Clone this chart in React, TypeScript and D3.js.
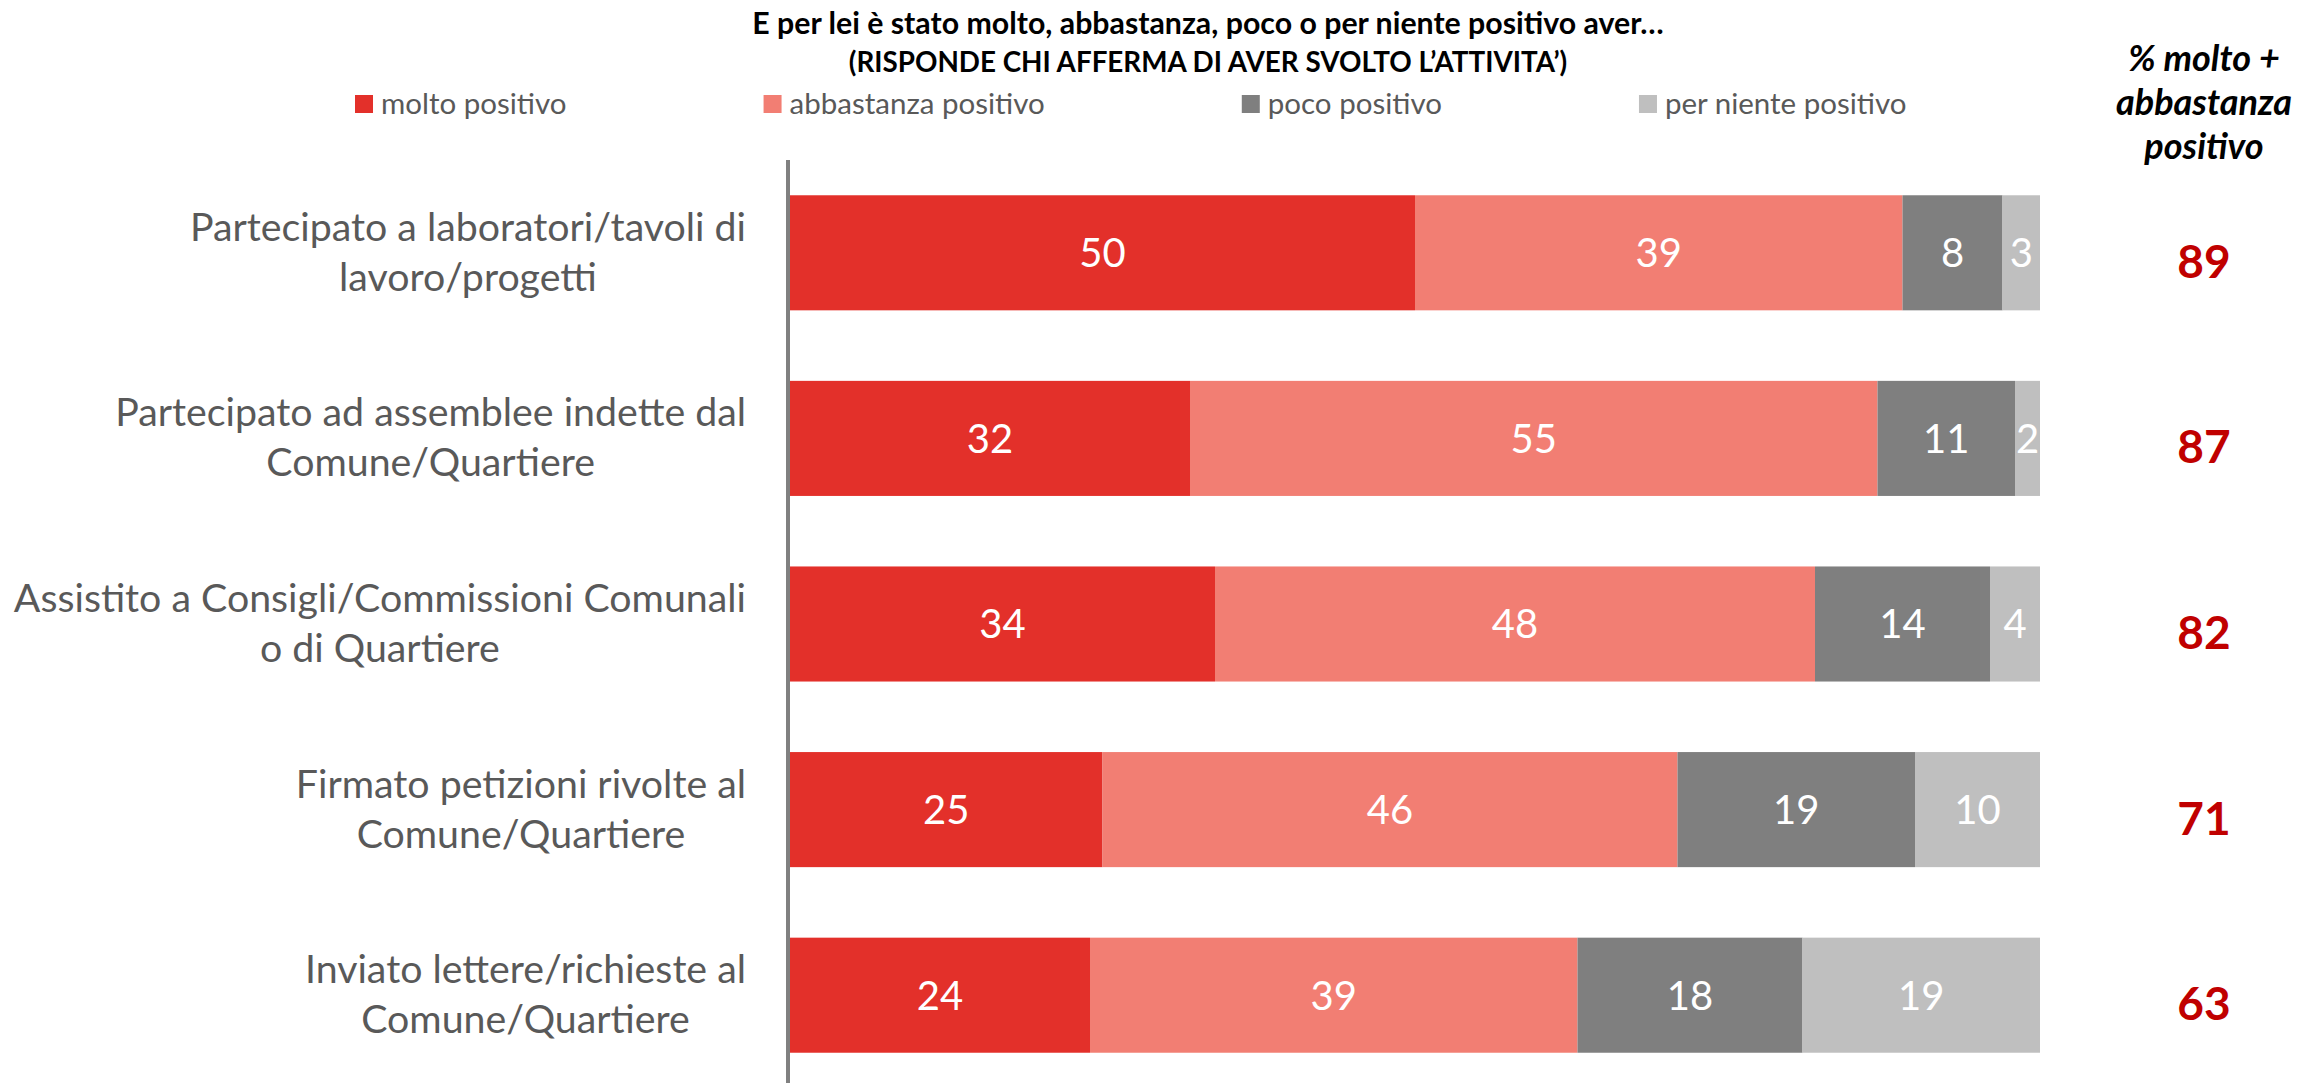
import React, { useEffect, useRef } from "react";
import * as d3 from "d3";

const categories = [
  "Partecipato a laboratori/tavoli di\nlavoro/progetti",
  "Partecipato ad assemblee indette dal\nComune/Quartiere",
  "Assistito a Consigli/Commissioni Comunali\no di Quartiere",
  "Firmato petizioni rivolte al\nComune/Quartiere",
  "Inviato lettere/richieste al\nComune/Quartiere",
];
const seriesNames = ["molto positivo", "abbastanza positivo", "poco positivo", "per niente positivo"];
const molto = [50, 32, 34, 25, 24];
const abbastanza = [39, 55, 48, 46, 39];
const poco = [8, 11, 14, 19, 18];
const perNiente = [3, 2, 4, 10, 19];
const totals = [89, 87, 82, 71, 63];
const titleLines = [
  "E per lei è stato molto, abbastanza, poco o per niente positivo aver…",
  "(RISPONDE CHI AFFERMA DI AVER SVOLTO L’ATTIVITA’)",
];
const sideHeader = ["% molto +", "abbastanza", "positivo"];
const colors = ["#E3302A", "#F27E73", "#7F7F7F", "#BFBFBF"];

const W = 2318;
const H = 1083;
const FONT = "Lato, 'Open Sans', sans-serif";

export default function App() {
  const ref = useRef<SVGSVGElement | null>(null);

  useEffect(() => {
    const svg = d3.select(ref.current);
    svg.selectAll("*").remove();

    const x = d3.scaleLinear().domain([0, 100]).range([790, 2040]);
    const y = d3
      .scaleBand<string>()
      .domain(categories)
      .range([160, 1088])
      .paddingInner(0.38)
      .paddingOuter(0.19);

    const table = categories.map((c, i) => ({
      cat: c,
      v0: molto[i],
      v1: abbastanza[i],
      v2: poco[i],
      v3: perNiente[i],
    }));
    const keys = ["v0", "v1", "v2", "v3"];
    const stacked = d3.stack<any>().keys(keys)(table);

    // bars
    const layers = svg
      .append("g")
      .selectAll("g")
      .data(stacked)
      .join("g")
      .attr("fill", (_d, i) => colors[i]);

    layers
      .selectAll("rect")
      .data((d) => d.map((p) => ({ p, cat: p.data.cat })))
      .join("rect")
      .attr("x", (d) => x(d.p[0]))
      .attr("width", (d) => x(d.p[1]) - x(d.p[0]))
      .attr("y", (d) => y(d.cat)!)
      .attr("height", y.bandwidth());

    layers
      .selectAll("text")
      .data((d) => d.map((p) => ({ p, cat: p.data.cat, v: p[1] - p[0] })))
      .join("text")
      .attr("x", (d) => (x(d.p[0]) + x(d.p[1])) / 2)
      .attr("y", (d) => y(d.cat)! + y.bandwidth() / 2)
      .attr("dy", "0.36em")
      .attr("text-anchor", "middle")
      .attr("fill", "#FFFFFF")
      .attr("font-family", FONT)
      .attr("font-size", 40)
      .text((d) => d.v);

    // axis line
    svg
      .append("line")
      .attr("x1", x(0) - 2)
      .attr("x2", x(0) - 2)
      .attr("y1", y.range()[0])
      .attr("y2", y.range()[1])
      .attr("stroke", "#808080")
      .attr("stroke-width", 4);

    // category labels
    const labelRight = 746;
    categories.forEach((c) => {
      const lines = c.split("\n");
      const cy = y(c)! + y.bandwidth() / 2;
      const t = svg
        .append("text")
        .attr("font-family", FONT)
        .attr("font-size", 39.3)
        .attr("fill", "#595959")
        .attr("text-anchor", "middle");
      const spans = lines.map((ln, j) =>
        t
          .append("tspan")
          .attr("y", cy - 12 + j * 50)
          .text(ln)
      );
      const widths = spans.map((s) => (s.node() as SVGTSpanElement).getComputedTextLength());
      const maxW = d3.max(widths) || 0;
      spans.forEach((s) => s.attr("x", labelRight - maxW / 2));
    });

    // totals
    svg
      .append("g")
      .selectAll("text")
      .data(categories)
      .join("text")
      .attr("x", 2204)
      .attr("y", (c) => y(c)! + y.bandwidth() / 2 + 25)
      .attr("text-anchor", "middle")
      .attr("font-family", FONT)
      .attr("font-weight", "bold")
      .attr("font-size", 46)
      .attr("fill", "#C00000")
      .text((_c, i) => totals[i]);

    // side header
    const sh = svg
      .append("text")
      .attr("text-anchor", "middle")
      .attr("font-family", FONT)
      .attr("font-weight", "bold")
      .attr("font-style", "italic")
      .attr("font-size", 36)
      .attr("fill", "#000000");
    sideHeader.forEach((ln, j) => sh.append("tspan").attr("x", 2204).attr("y", 71 + j * 44).text(ln));

    // title
    const titleSizes = [30.3, 27.8];
    titleLines.forEach((ln, j) =>
      svg
        .append("text")
        .attr("text-anchor", "middle")
        .attr("font-family", FONT)
        .attr("font-weight", "bold")
        .attr("font-size", titleSizes[j])
        .attr("fill", "#000000")
        .attr("x", 1208)
        .attr("y", 34 + j * 38)
        .text(ln)
    );

    // legend
    let lx = 355;
    seriesNames.forEach((name, i) => {
      svg
        .append("rect")
        .attr("x", lx)
        .attr("y", 95)
        .attr("width", 18)
        .attr("height", 18)
        .attr("fill", colors[i]);
      const lt = svg
        .append("text")
        .attr("x", lx + 26)
        .attr("y", 114)
        .attr("font-family", FONT)
        .attr("font-size", 29.5)
        .attr("fill", "#595959")
        .text(name);
      const w = (lt.node() as SVGTextElement).getComputedTextLength();
      lx += 26 + w + 197;
    });
  }, []);

  return (
    <svg
      ref={ref}
      width={W}
      height={H}
      style={{ position: "absolute", left: 0, top: 0, background: "#FFFFFF" }}
    />
  );
}
